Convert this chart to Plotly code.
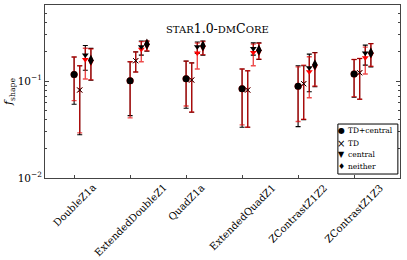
import plotly.graph_objects as go
import numpy as np

categories = ["DoubleZ1a", "ExtendedDoubleZ1", "QuadZ1a", "ExtendedQuadZ1", "ZContrastZ1Z2", "ZContrastZ1Z3"]
series_names = ["TD+central", "TD", "central", "neither"]
legend_glyphs = ["\u25CF", "\u00D7", "\u25BC", "\u2666"]

# black series: centre, upper, lower
td_central_c = [0.117, 0.1007, 0.1056, 0.0833, 0.0882, 0.118]
td_central_hi = [0.177, 0.158, 0.1605, 0.133, 0.1436, 0.167]
td_central_lo = [0.0576, 0.044, 0.0524, 0.0334, 0.0339, 0.068]
td_c = [0.0808, 0.162, 0.1024, 0.0808, 0.0938, 0.1217]
td_hi = [0.1436, 0.200, 0.154, 0.1276, 0.1436, 0.171]
td_lo = [0.0279, 0.1237, 0.0477, 0.0334, 0.0400, 0.0648]
central_c = [0.185, 0.225, 0.225, 0.217, 0.137, 0.195]
central_hi = [0.2328, 0.259, 0.253, 0.2475, 0.1895, 0.2344]
central_lo = [0.129, 0.185, 0.193, 0.185, 0.0776, 0.146]
neither_c = [0.164, 0.240, 0.230, 0.208, 0.147, 0.195]
neither_hi = [0.217, 0.259, 0.259, 0.2475, 0.197, 0.244]
neither_lo = [0.1017, 0.203, 0.185, 0.167, 0.0874, 0.140]

# red series: centre, upper, lower
td_central_c_red = [0.117, 0.1007, 0.1056, 0.0833, 0.0882, 0.118]
td_central_hi_red = [0.177, 0.158, 0.1605, 0.133, 0.140, 0.167]
td_central_lo_red = [0.0628, 0.0417, 0.0553, 0.0353, 0.0382, 0.069]
td_c_red = [0.0808, 0.162, 0.1024, 0.0808, 0.0938, 0.1217]
td_hi_red = [0.1436, 0.200, 0.154, 0.1276, 0.146, 0.171]
td_lo_red = [0.0292, 0.1237, 0.048, 0.0334, 0.0404, 0.0648]
central_c_red = [0.167, 0.213, 0.195, 0.197, 0.1246, 0.1736]
central_hi_red = [0.218, 0.255, 0.246, 0.240, 0.178, 0.2235]
central_lo_red = [0.105, 0.158, 0.133, 0.1436, 0.0673, 0.118]
neither_c_red = [0.162, 0.238, 0.228, 0.206, 0.145, 0.193]
neither_hi_red = [0.214, 0.257, 0.256, 0.245, 0.195, 0.242]
neither_lo_red = [0.103, 0.205, 0.187, 0.169, 0.089, 0.142]

offsets = [0.0, 0.1, 0.2, 0.3]
symbols = ["circle", "x-thin", "triangle-down", "diamond-tall"]
sizes = [7, 5, 6, 8]

black = [(td_central_c, td_central_hi, td_central_lo), (td_c, td_hi, td_lo),
         (central_c, central_hi, central_lo), (neither_c, neither_hi, neither_lo)]
red = [(td_central_c_red, td_central_hi_red, td_central_lo_red), (td_c_red, td_hi_red, td_lo_red),
       (central_c_red, central_hi_red, central_lo_red), (neither_c_red, neither_hi_red, neither_lo_red)]

fig = go.Figure()
xs_base = np.arange(len(categories))

for k in range(4):
    xs = xs_base + offsets[k]
    c, hi, lo = [np.array(a) for a in black[k]]
    cr, hir, lor = [np.array(a) for a in red[k]]
    fig.add_trace(go.Scatter(x=xs, y=c, mode="markers", marker=dict(size=1, color="rgba(0,0,0,0)"),
                             error_y=dict(type="data", symmetric=False, array=hi - c, arrayminus=c - lo,
                                          color="black", thickness=1.1, width=2.5),
                             showlegend=False, hoverinfo="skip"))
    fig.add_trace(go.Scatter(x=xs, y=cr, mode="markers",
                             marker=dict(symbol=symbols[k], size=sizes[k], color="red",
                                         line=dict(width=1 if k == 1 else 0, color="red")),
                             error_y=dict(type="data", symmetric=False, array=hir - cr, arrayminus=cr - lor,
                                          color="rgba(230,0,0,0.7)", thickness=1.4, width=2.5),
                             showlegend=False, hoverinfo="skip"))
for k in range(4):
    xs = xs_base + offsets[k]
    c = np.array(black[k][0])
    fig.add_trace(go.Scatter(x=xs, y=c, mode="markers", name=series_names[k], showlegend=False,
                             marker=dict(symbol=symbols[k], size=sizes[k], color="black",
                                         line=dict(width=1 if k == 1 else 0, color="black"))))

font_family = "DejaVu Serif"
for i, cat in enumerate(categories):
    fig.add_annotation(x=i, y=-0.015, xref="x", yref="paper", text=cat, textangle=-45,
                       showarrow=False, xanchor="center", yanchor="top", borderpad=0,
                       font=dict(family=font_family, size=10, color="black"))

title_txt = ("<span style='font-size:10px'>STAR</span>1.0-<span style='font-size:10px'>DM</span>"
             "C<span style='font-size:10px'>ORE</span>")
fig.add_annotation(x=0.487, y=0.865, xref="paper", yref="paper", text=title_txt, showarrow=False,
                   xanchor="center", yanchor="middle", font=dict(family=font_family, size=12.5, color="black"))

# manual compact legend
fig.add_shape(type="rect", xref="paper", yref="paper", x0=0.825, x1=0.994, y0=0.023, y1=0.312,
              line=dict(color="black", width=1), fillcolor="white", layer="above")
legend_y = [0.272, 0.202, 0.133, 0.064]
for k in range(4):
    fig.add_annotation(x=0.835, y=legend_y[k], xref="paper", yref="paper", text=legend_glyphs[k],
                       showarrow=False, xanchor="center", yanchor="middle",
                       font=dict(family="DejaVu Sans", size=8 if k != 1 else 10, color="black"))
    fig.add_annotation(x=0.848, y=legend_y[k], xref="paper", yref="paper", text=series_names[k],
                       showarrow=False, xanchor="left", yanchor="middle",
                       font=dict(family=font_family, size=7.5, color="black"))

minor_vals = [m * 10.0 ** e for e in (-2, -1) for m in range(2, 10)]
fig.update_layout(
    width=407, height=260, margin=dict(l=45, r=7, t=5, b=82),
    paper_bgcolor="white", plot_bgcolor="white", showlegend=False, hovermode=False,
    font=dict(family=font_family, size=11, color="black"),
    xaxis=dict(range=[-0.52, 5.82], tickvals=list(xs_base), showticklabels=False, ticks="inside",
               ticklen=3, tickcolor="#444", showgrid=False, zeroline=False, showline=True,
               linecolor="#444", linewidth=1, mirror=True),
    yaxis=dict(type="log", range=[-2, -0.216], tickvals=[0.01, 0.1],
               ticktext=["10<sup>\u22122</sup>", "10<sup>\u22121</sup>"], ticks="inside", ticklen=4,
               tickcolor="#444", showgrid=False, zeroline=False, showline=True, linecolor="#444",
               linewidth=1, mirror="ticks", tickfont=dict(size=10.5, color="black"),
               minor=dict(tickvals=minor_vals, ticks="inside", ticklen=2, tickcolor="#444"),
               title=dict(text="<i>f</i><sub>shape</sub>", standoff=2, font=dict(size=11, color="black"))),
)

fig.write_html("out.html", config={"displayModeBar": False, "staticPlot": True},
               post_script="document.body.style.margin='0px';")
